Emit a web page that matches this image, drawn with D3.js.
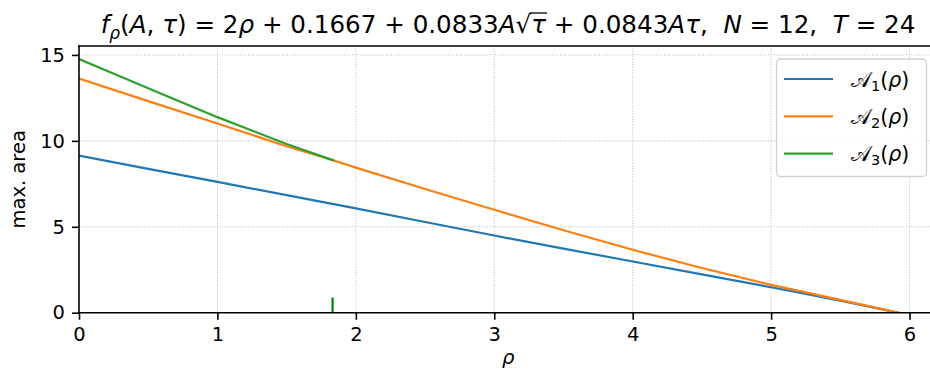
<!DOCTYPE html>
<html>
<head>
<meta charset="utf-8">
<script src="https://cdn.jsdelivr.net/npm/d3@7"></script>
<style>
  html, body { margin: 0; padding: 0; background: #fff; }
  svg { display: block; font-family: "DejaVu Sans", sans-serif; }
</style>
</head>
<body>
<svg id="chart" width="930" height="373"></svg>
<script>
// Sample points along rho for each curve of maximal area
const rho1 = [0, 0.5, 1, 1.5, 2, 2.5, 3, 3.5, 4, 4.5, 5, 5.5, 5.917];
const area1 = [9.14, 8.37, 7.61, 6.84, 6.07, 5.28, 4.49, 3.73, 2.98, 2.23, 1.48, 0.70, 0];

const rho2 = [0, 0.5, 1, 1.5, 1.836, 2, 2.5, 3, 3.5, 4, 4.5, 5, 5.5, 5.917];
const area2 = [13.62, 12.31, 11.01, 9.69, 8.87, 8.44, 7.20, 5.99, 4.80, 3.66, 2.60, 1.62, 0.75, 0];

const rho3 = [0, 0.5, 1, 1.5, 1.836];
const area3 = [14.76, 13.06, 11.38, 9.82, 8.87];

// Marker where the third curve stops
const markRho = 1.832;
const markHeight = 0.89;

const xTicks = [0, 1, 2, 3, 4, 5, 6];
const yTicks = [0, 5, 10, 15];
const seriesNames = ["1", "2", "3"];
const colors = ["#1f77b4", "#ff7f0e", "#2ca02c"];

const xDomain = [0, 6.213];
const yDomain = [0, 15.52];

(function () {
const svg = d3.select("#chart");
const pL = 79, pR = 939, pT = 46, pB = 312.7;

const x = d3.scaleLinear().domain(xDomain).range([pL, pR]);
const y = d3.scaleLinear().domain(yDomain).range([pB, pT]);

svg.append("defs").append("clipPath").attr("id", "plotClip")
  .append("rect").attr("x", pL).attr("y", pT)
  .attr("width", pR - pL).attr("height", pB - pT);

// dotted grid
const grid = svg.append("g");
grid.selectAll("line.gx").data(xTicks.filter(t => t > 0)).join("line")
  .attr("x1", d => x(d)).attr("x2", d => x(d))
  .attr("y1", pT).attr("y2", pB)
  .attr("stroke", "#b0b0b0").attr("stroke-width", 0.9)
  .attr("stroke-dasharray", "1,1.6");
grid.selectAll("line.gy").data(yTicks.filter(t => t > 0)).join("line")
  .attr("x1", pL).attr("x2", pR)
  .attr("y1", d => y(d)).attr("y2", d => y(d))
  .attr("stroke", "#b0b0b0").attr("stroke-width", 0.9)
  .attr("stroke-dasharray", "1,1.6");

// curves
const line = d3.line().x(d => x(d[0])).y(d => y(d[1]));
const series = [
  d3.zip(rho1, area1),
  d3.zip(rho2, area2),
  d3.zip(rho3, area3)
];
const plot = svg.append("g").attr("clip-path", "url(#plotClip)");
series.forEach((s, i) => {
  plot.append("path").datum(s)
    .attr("d", line)
    .attr("fill", "none")
    .attr("stroke", colors[i])
    .attr("stroke-width", 2.2)
    .attr("stroke-linejoin", "round")
    .attr("stroke-linecap", "square");
});

plot.append("line")
  .attr("x1", x(markRho)).attr("x2", x(markRho))
  .attr("y1", y(0)).attr("y2", y(markHeight))
  .attr("stroke", "#008000").attr("stroke-width", 2.2);

// axes
const xAxis = d3.axisBottom(x).tickValues(xTicks).tickFormat(d3.format("d"))
  .tickSize(7).tickPadding(7);
const yAxis = d3.axisLeft(y).tickValues(yTicks).tickFormat(d3.format("d"))
  .tickSize(7).tickPadding(7);

const gx = svg.append("g").attr("transform", `translate(0,${pB})`).call(xAxis);
const gy = svg.append("g").attr("transform", `translate(${pL},0)`).call(yAxis);
[gx, gy].forEach(g => {
  g.select(".domain").remove();
  g.selectAll(".tick line").attr("stroke", "#000").attr("stroke-width", 1.6);
  g.selectAll(".tick text").attr("fill", "#000")
    .style("font-family", "DejaVu Sans").style("font-size", "19.5px");
});

// spines
const spines = svg.append("g").attr("stroke", "#000").attr("stroke-width", 1.6)
  .attr("stroke-linecap", "square");
spines.append("line").attr("x1", pL).attr("x2", pL).attr("y1", pT).attr("y2", pB);
spines.append("line").attr("x1", pL).attr("x2", pR).attr("y1", pB).attr("y2", pB);
spines.append("line").attr("x1", pL).attr("x2", pR).attr("y1", pT).attr("y2", pT);
spines.append("line").attr("x1", pR).attr("x2", pR).attr("y1", pT).attr("y2", pB);

// axis labels
svg.append("text")
  .attr("transform", `translate(25,${(pT + pB) / 2}) rotate(-90)`)
  .attr("text-anchor", "middle")
  .style("font-size", "19.5px")
  .text("max. area");

svg.append("text")
  .attr("x", x(3.1)).attr("y", 364)
  .attr("text-anchor", "middle")
  .style("font-size", "19.5px").style("font-style", "italic")
  .text("ρ");

// title built from pieces: [text, italic, subscript]
const titleParts = [
  ["f", true, false], ["ρ", true, true], ["(", false, false], ["A", true, false],
  [", ", false, false], ["τ", true, false], [") = 2", false, false], ["ρ", true, false],
  [" + 0.1667 + 0.0833", false, false], ["A", true, false], ["√", false, false],
  ["τ", true, false], [" + 0.0843", false, false], ["A", true, false], ["τ", true, false],
  [",  ", false, false], ["N", true, false], [" = 12,  ", false, false],
  ["T", true, false], [" = 24", false, false]
];
const title = svg.append("text")
  .attr("x", 508).attr("y", 33)
  .attr("text-anchor", "middle")
  .attr("xml:space", "preserve")
  .style("white-space", "pre")
  .style("font-size", "24.6px");
titleParts.forEach((p, i) => {
  const prev = titleParts[i - 1];
  const ts = title.append("tspan").text(p[0])
    .style("font-style", p[1] ? "italic" : "normal");
  if (p[2]) ts.attr("dy", 6).style("font-size", "17px");
  else if (prev && prev[2]) ts.attr("dy", -6);
});
// overbar of the square root
{
  const node = title.node();
  let idx = 0, rootIdx = -1;
  for (let i = 0; i < titleParts.length; i++) {
    if (titleParts[i][0] === "√") rootIdx = idx;
    idx += titleParts[i][0].length;
  }
  const r = node.getExtentOfChar(rootIdx);
  const t = node.getExtentOfChar(rootIdx + 1);
  const yBar = r.y + 3;
  svg.append("line")
    .attr("x1", r.x + r.width - 1.5).attr("x2", t.x + t.width + 1)
    .attr("y1", yBar).attr("y2", yBar)
    .attr("stroke", "#000").attr("stroke-width", 1.3);
}

// legend
const lg = svg.append("g");
lg.append("rect")
  .attr("x", 776.5).attr("y", 59).attr("width", 150).attr("height", 117.5)
  .attr("rx", 4).attr("fill", "#fff").attr("fill-opacity", 0.8)
  .attr("stroke", "#d0d0d0").attr("stroke-width", 1.3);
seriesNames.forEach((n, i) => {
  const yy = 79 + i * 37.3;
  lg.append("line").attr("x1", 784).attr("x2", 833)
    .attr("y1", yy).attr("y2", yy)
    .attr("stroke", colors[i]).attr("stroke-width", 2.2);
  const t = lg.append("text").attr("x", 851).attr("y", yy + 7.5)
    .style("font-size", "20.5px");
  t.append("tspan").text("𝒜");
  t.append("tspan").text(n).attr("dy", 4).style("font-size", "14.5px");
  t.append("tspan").text("(").attr("dy", -4);
  t.append("tspan").text("ρ").style("font-style", "italic");
  t.append("tspan").text(")");
});
})();
</script>
</body>
</html>
